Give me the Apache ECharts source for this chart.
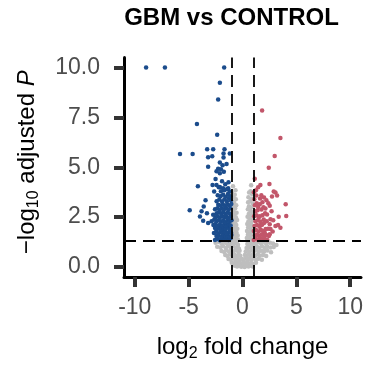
<!DOCTYPE html>
<html>
<head>
<meta charset="utf-8">
<script src="https://cdn.jsdelivr.net/npm/echarts@6/dist/echarts.min.js"></script>
<style>
  html, body { margin: 0; padding: 0; background: #fff; }
  #chart { width: 366px; height: 367px; }
</style>
</head>
<body>
<div id="chart"></div>
<script>
// Volcano plot: GBM vs CONTROL, [log2 fold change, -log10 adjusted P]

const chartTitle = 'GBM vs CONTROL';
const xTicks = [-10, -5, 0, 5, 10];
const yTicks = [0, 2.5, 5, 7.5, 10];
const foldCutoff = 1;          // |log2 FC| threshold
const pCutoff = 1.30103;       // -log10(0.05)

// not significant genes
const grayPoints = [
  [-0.98,3.72],[-0.72,3.62],[-0.85,3.5],[-0.62,3.4],[-0.95,3.3],[-0.78,3.22],[-0.58,3.1],[-0.9,3.05],
  [-0.68,2.95],[-0.99,2.88],[-0.82,2.8],[-0.55,2.72],[-0.74,2.65],[-0.93,2.58],[-0.62,2.5],[-0.84,2.42],
  [-0.5,2.36],[-0.97,2.3],[-0.7,2.25],[-0.88,2.15],[-0.58,2.1],[-0.77,2.02],[-0.96,1.95],[-0.48,1.92],
  [-0.66,1.86],[-0.86,1.8],[-0.55,1.72],[-0.99,1.68],[-0.75,1.62],[-0.45,1.58],[-0.9,1.52],[-0.62,1.48],
  [-0.8,1.4],[-0.42,1.38],[-0.97,1.35],[-0.52,1.32],[-0.7,1.31],[-0.88,4.05],[-0.65,3.85],
  [0.74,3.8],[0.61,3.73],[0.9,3.65],[0.55,3.5],[0.82,3.42],[0.52,3.24],[0.7,3.3],[0.95,3.18],[0.6,3.05],
  [0.84,2.98],[0.5,2.9],[0.72,2.82],[0.96,2.75],[0.58,2.66],[0.86,2.6],[0.47,2.52],[0.68,2.45],
  [0.92,2.38],[0.55,2.3],[0.8,2.22],[0.44,2.15],[0.66,2.1],[0.98,2.05],[0.52,1.98],[0.76,1.92],
  [0.9,1.85],[0.42,1.8],[0.62,1.74],[0.85,1.68],[0.5,1.62],[0.72,1.56],[0.97,1.5],[0.4,1.45],
  [0.6,1.4],[0.82,1.36],[0.48,1.33],[0.93,1.32],[0.8,4.1],
  [-2.5,1.22],[-2.2,1.25],[-1.95,1.18],[-1.7,1.27],[-1.5,1.2],[-1.3,1.26],[-1.15,1.15],[-0.95,1.22],
  [-0.75,1.18],[-0.55,1.25],[-0.42,1.12],[0.45,1.15],[0.6,1.25],[0.8,1.2],[1.0,1.26],[1.2,1.17],
  [1.45,1.24],[1.7,1.2],[1.95,1.27],[2.2,1.15],[2.55,1.22],[2.83,1.18],[3.15,1.1],
  [-2.35,1.02],[-2.05,0.98],[-1.8,1.05],[-1.55,0.95],[-1.35,1.05],[-1.1,0.98],[-0.88,1.05],[-0.65,0.96],
  [-0.45,1.03],[-0.33,0.92],[0.38,0.95],[0.55,1.05],[0.72,0.98],[0.92,1.06],[1.1,0.96],[1.32,1.04],
  [1.55,0.97],[1.8,1.05],[2.05,0.95],[2.3,1.02],[2.6,0.98],[2.9,1.0],
  [-1.95,0.8],[-1.7,0.75],[-1.48,0.84],[-1.25,0.76],[-1.05,0.85],[-0.82,0.78],[-0.6,0.86],[-0.4,0.76],
  [-0.27,0.82],[0.3,0.78],[0.45,0.85],[0.65,0.76],[0.85,0.84],[1.05,0.78],[1.28,0.86],[1.5,0.75],
  [1.75,0.82],[2.0,0.77],[2.3,0.83],[2.65,0.74],
  [-1.6,0.6],[-1.38,0.55],[-1.15,0.64],[-0.95,0.56],[-0.75,0.62],[-0.55,0.55],[-0.35,0.63],[-0.2,0.56],
  [0.22,0.6],[0.38,0.54],[0.55,0.64],[0.75,0.56],[0.95,0.62],[1.15,0.55],[1.38,0.63],[1.6,0.57],
  [1.9,0.6],[2.2,0.55],
  [-1.3,0.4],[-1.08,0.36],[-0.88,0.44],[-0.68,0.37],[-0.48,0.43],[-0.3,0.36],[-0.12,0.42],[0.1,0.38],
  [0.28,0.44],[0.46,0.36],[0.65,0.42],[0.85,0.38],[1.05,0.44],[1.25,0.37],[1.5,0.42],[1.8,0.36],
  [-1.0,0.22],[-0.8,0.18],[-0.6,0.24],[-0.42,0.17],[-0.25,0.23],[-0.08,0.16],[0.08,0.22],[0.25,0.17],
  [0.42,0.24],[0.6,0.18],[0.8,0.22],[1.0,0.16],[1.25,0.21],
  [-0.7,0.06],[-0.5,0.02],[-0.3,0.07],[-0.12,0.01],[0.05,0.05],[0.2,0.0],[0.38,0.06],[0.55,0.02],
  [0.75,0.07],[0.95,0.03]
];

// down-regulated genes
const bluePoints = [
  [-8.95,10.0],[-7.2,10.0],[-1.7,10.0],[-2.1,9.24],[-2.26,8.39],[-4.23,7.17],[-2.35,6.63],
  [-5.8,5.67],[-4.63,5.67],[-3.28,5.9],[-2.72,5.9],[-1.67,5.9],[-1.18,5.69],[-3.19,5.5],[-2.81,5.55],
  [-1.76,5.69],[-1.76,5.49],[-2.1,5.24],[-1.48,5.16],[-1.85,5.1],[-3.19,5.02],[-2.26,4.93],[-2.0,4.9],
  [-2.41,4.8],[-1.73,4.77],[-2.1,4.7],[-2.5,4.41],[-4.14,4.05],[-2.78,4.11],[-2.41,4.11],[-2.1,4.01],
  [-1.8,3.95],[-1.33,3.95],[-1.18,3.78],[-2.63,3.78],[-3.43,3.35],[-3.6,3.03],[-4.9,2.85],[-3.3,2.7],
  [-3.95,2.53],[-3.65,2.32],[-2.87,2.3],[-3.8,2.8],[-3.19,2.2],
  [-2.55,1.36],[-2.3,1.4],[-2.1,1.34],[-1.9,1.45],[-1.7,1.37],[-1.5,1.42],[-1.3,1.35],[-1.1,1.44],
  [-2.42,1.55],[-2.2,1.58],[-1.98,1.52],[-1.78,1.6],[-1.58,1.53],[-1.38,1.58],[-1.18,1.52],[-1.03,1.6],
  [-2.65,1.7],[-2.45,1.78],[-2.25,1.68],[-2.05,1.75],[-1.85,1.7],[-1.65,1.78],[-1.45,1.69],[-1.25,1.76],
  [-1.06,1.72],[-2.35,1.9],[-2.15,1.95],[-1.95,1.88],[-1.75,1.96],[-1.55,1.9],[-1.35,1.98],[-1.15,1.88],
  [-2.55,1.96],[-2.7,2.1],[-2.5,2.15],[-2.3,2.06],[-2.1,2.12],[-1.9,2.05],[-1.7,2.14],[-1.5,2.07],
  [-1.3,2.15],[-1.1,2.08],[-2.4,2.3],[-2.2,2.35],[-2.0,2.27],[-1.8,2.33],[-1.6,2.25],[-1.4,2.36],
  [-1.2,2.28],[-1.02,2.35],[-2.62,2.38],[-2.5,2.5],[-2.3,2.55],[-2.1,2.47],[-1.9,2.56],[-1.7,2.48],
  [-1.5,2.54],[-1.3,2.46],[-1.1,2.55],[-2.4,2.7],[-2.18,2.74],[-1.98,2.68],[-1.78,2.76],[-1.58,2.66],
  [-1.38,2.73],[-1.18,2.68],[-2.72,2.62],[-2.55,2.9],[-2.32,2.95],[-2.12,2.86],[-1.92,2.94],[-1.72,2.88],
  [-1.52,2.96],[-1.32,2.87],[-1.12,2.95],[-2.25,3.12],[-2.02,3.08],[-1.82,3.15],[-1.62,3.06],[-1.42,3.14],
  [-1.22,3.08],[-1.04,3.16],[-2.4,3.3],[-2.15,3.38],[-1.9,3.28],[-1.68,3.4],[-1.45,3.3],[-1.25,3.45],
  [-1.08,3.35],[-2.05,3.55],[-1.8,3.62],[-1.55,3.52],[-1.35,3.66],[-1.12,3.55],[-2.3,3.6],
  [-2.0,3.8],[-1.7,3.85],[-1.45,3.9],[-2.2,4.0],[-1.6,4.15],[-1.3,4.25],[-1.9,4.3]
];

// up-regulated genes
const redPoints = [
  [1.82,7.84],[3.52,6.46],[2.99,5.57],[2.44,4.98],[1.14,4.42],[2.5,4.16],[1.66,4.11],[1.45,4.0],
  [3.06,3.73],[2.9,3.78],[3.21,3.59],[2.74,3.54],[1.29,3.59],[2.0,3.49],[1.63,3.44],[2.22,3.34],
  [4.01,3.14],[1.45,3.01],[2.53,3.07],[2.13,2.93],[1.76,2.88],[2.28,2.63],[4.06,2.56],[3.36,2.52],
  [1.6,2.55],[1.97,2.38],[2.53,2.14],[3.06,2.06],[3.3,2.1],[3.52,1.97],[2.8,1.78],[2.37,1.92],
  [2.06,1.73],[1.69,2.1],[2.53,1.64],
  [1.05,1.36],[1.25,1.42],[1.45,1.35],[1.65,1.44],[1.85,1.38],[2.05,1.45],[2.3,1.36],[1.15,1.58],
  [1.35,1.62],[1.55,1.55],[1.75,1.63],[1.95,1.56],[2.2,1.6],[2.45,1.55],[1.05,1.8],[1.25,1.85],
  [1.48,1.78],[1.7,1.87],[1.9,1.8],[2.15,1.9],[1.12,2.05],[1.35,2.1],[1.58,2.02],[1.82,2.12],
  [2.0,2.2],[2.25,2.3],[1.2,2.3],[1.42,2.35],[1.65,2.28],[1.08,2.55],[1.3,2.6],[1.52,2.5],
  [1.85,2.6],[2.1,2.7],[1.2,2.8],[1.4,2.85],[1.95,3.0],[1.15,3.1],[1.32,3.2],[1.6,3.15],
  [1.85,3.25],[2.4,3.2],[1.1,3.4],[1.75,3.6],[2.6,2.4],[2.7,2.8],[2.6,1.9],[2.85,2.35],
  [1.05,3.75],[1.25,3.85]
];

const FONT = '"Liberation Sans", Arial, Helvetica, sans-serif';
const chart = echarts.init(document.getElementById('chart'), null, { renderer: 'canvas' });

const tickLabel = { color: '#4D4D4D', fontSize: 23, fontFamily: FONT };
const nameRich = {
  m: { fontSize: 24, fontFamily: FONT, color: '#000', lineHeight: 30, verticalAlign: 'middle' },
  s: { fontSize: 16, fontFamily: FONT, color: '#000', lineHeight: 14, verticalAlign: 'bottom' },
  i: { fontSize: 24, fontFamily: FONT, color: '#000', lineHeight: 30, verticalAlign: 'middle', fontStyle: 'italic' }
};

function scatter(name, data, color) {
  return {
    name, type: 'scatter', data, symbol: 'circle', symbolSize: 4.5,
    itemStyle: { color, opacity: 1 }, silent: true, animation: false
  };
}

chart.setOption({
  animation: false,
  backgroundColor: '#fff',
  grid: { left: 124, right: 4.5, top: 57.5, bottom: 87 },
  graphic: [{
    type: 'text', x: 231.5, y: 18.5,
    style: { text: chartTitle, font: 'bold 24px ' + FONT, fill: '#000',
             textAlign: 'center', textVerticalAlign: 'middle' }
  }],
  xAxis: {
    type: 'value', min: -11, max: 11,
    splitLine: { show: false },
    axisLine: { show: true, onZero: false, lineStyle: { color: '#000', width: 3 } },
    axisTick: { show: true, length: 10, customValues: xTicks, lineStyle: { color: '#333', width: 4 } },
    axisLabel: Object.assign({ customValues: xTicks, margin: 19, formatter: v => String(v) }, tickLabel),
    name: '{m|log}{s|2}{m| fold change}', nameLocation: 'middle', nameGap: 55,
    nameTextStyle: { rich: nameRich }
  },
  yAxis: {
    type: 'value', min: -0.5, max: 10.5,
    splitLine: { show: false },
    axisLine: { show: true, onZero: false, lineStyle: { color: '#000', width: 3 } },
    axisTick: { show: true, length: 10, customValues: yTicks, lineStyle: { color: '#333', width: 4 } },
    axisLabel: Object.assign({ customValues: yTicks, margin: 24, formatter: v => v.toFixed(1) }, tickLabel),
    name: '{m|\u2212log}{s|10}{m| adjusted }{i|P}', nameLocation: 'middle', nameGap: 82,
    nameTextStyle: { rich: nameRich, padding: [0, 0, 0, 10] }
  },
  series: [
    scatter('NS', grayPoints, '#BEBEBE'),
    scatter('Down', bluePoints, '#1B4C8C'),
    scatter('Up', redPoints, '#C2566A'),
    {
      type: 'scatter', data: [], silent: true, z: 10,
      markLine: {
        silent: true, symbol: 'none', animation: false,
        label: { show: false },
        lineStyle: { color: '#000', width: 1.8, type: [12, 7] },
        data: [
          { xAxis: -foldCutoff }, { xAxis: foldCutoff }, { yAxis: pCutoff }
        ]
      }
    }
  ]
});
</script>
</body>
</html>
